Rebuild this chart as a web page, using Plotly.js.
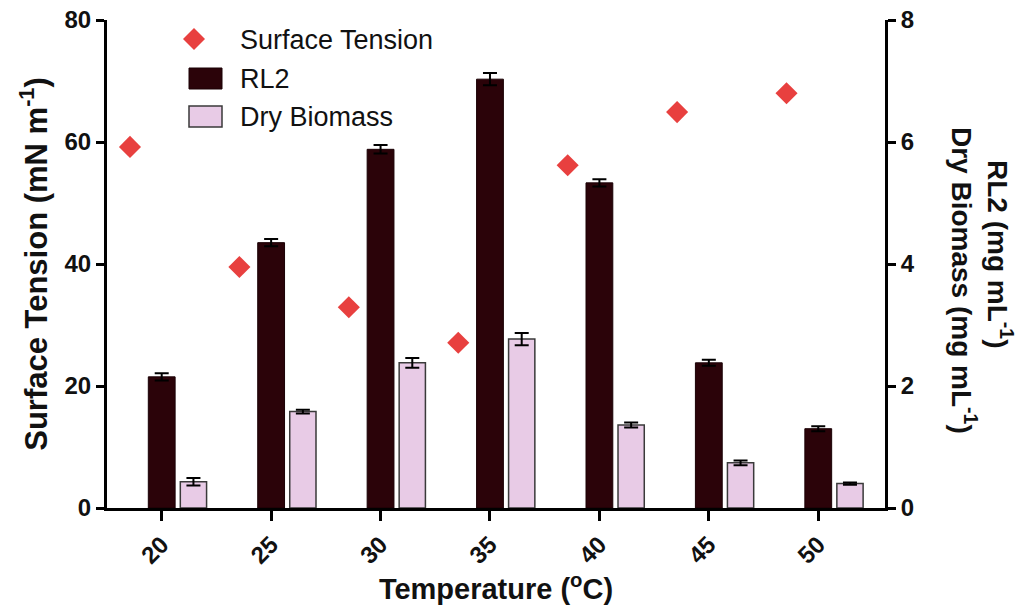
<!DOCTYPE html>
<html>
<head>
<meta charset="utf-8">
<script src="https://cdn.plot.ly/plotly-3.0.1.min.js"></script>
<style>html,body{margin:0;padding:0;background:#fff;}#chart{width:1026px;height:614px;}</style>
</head>
<body>
<div id="chart"></div>
<script>
// ---- data ----
const temperatures = ["20", "25", "30", "35", "40", "45", "50"];
const surfaceTension = [59.2, 39.5, 32.9, 27.1, 56.2, 64.9, 68.0];
const rl2 = [2.15, 4.35, 5.88, 7.03, 5.33, 2.38, 1.30];
const rl2Err = [0.06, 0.06, 0.07, 0.10, 0.06, 0.05, 0.04];
const dryBiomass = [0.43, 1.58, 2.38, 2.77, 1.36, 0.74, 0.40];
const dryBiomassErr = [0.06, 0.03, 0.08, 0.10, 0.04, 0.04, 0.02];

const idx = temperatures.map((_, i) => i);
const SHIFT = 0.29;
const FONT = "Liberation Sans, Arial, sans-serif";

const traces = [
  {
    type: "bar", name: "RL2", x: idx, y: rl2, width: 0.245, yaxis: "y2",
    marker: {color: "#2b0309", line: {color: "#1a0005", width: 1}},
    error_y: {type: "data", array: rl2Err, visible: true, color: "#000", thickness: 2, width: 7},
    showlegend: false
  },
  {
    type: "bar", name: "Dry Biomass", x: idx.map(i => i + SHIFT), y: dryBiomass, width: 0.24, yaxis: "y2",
    marker: {color: "#e8cbe6", line: {color: "#3a3a3a", width: 1.5}},
    error_y: {type: "data", array: dryBiomassErr, visible: true, color: "#000", thickness: 2, width: 7},
    showlegend: false
  },
  {
    type: "scatter", mode: "markers", name: "Surface Tension", x: idx.map(i => i - SHIFT), y: surfaceTension,
    marker: {symbol: "diamond", size: 17, color: "#e8403f", line: {width: 0}},
    showlegend: false
  }
];

// manual legend placed in paper coordinates
const px = (x) => (x - 107) / 778;
const py = (y) => (508 - y) / 488;
const shapes = [
  {type: "path", xref: "paper", yref: "paper",
   path: `M ${px(194)} ${py(28)} L ${px(205)} ${py(39)} L ${px(194)} ${py(50)} L ${px(183)} ${py(39)} Z`,
   fillcolor: "#e8403f", line: {width: 0}},
  {type: "rect", xref: "paper", yref: "paper",
   x0: px(189), x1: px(222), y0: py(68), y1: py(89), fillcolor: "#2b0309", line: {color: "#1a0005", width: 1}},
  {type: "rect", xref: "paper", yref: "paper",
   x0: px(189), x1: px(222), y0: py(106), y1: py(127), fillcolor: "#e8cbe6", line: {color: "#3a3a3a", width: 1.5}}
];

const annotations = [
  {text: "Surface Tension", x: px(238), y: py(40)},
  {text: "RL2", x: px(238), y: py(79)},
  {text: "Dry Biomass", x: px(238), y: py(117)}
].map(a => ({...a, xref: "paper", yref: "paper", xanchor: "left", yanchor: "middle", showarrow: false,
  font: {family: FONT, size: 27, color: "#111"}}));

annotations.push({
  text: "<b>RL2 (mg mL<sup>-1</sup>)</b>",
  xref: "paper", yref: "paper", x: px(1000), y: py(254), xanchor: "center", yanchor: "middle",
  textangle: 90, showarrow: false, font: {family: FONT, size: 28, color: "#111"}
});
annotations.push({
  text: "<b>Dry Biomass (mg mL<sup>-1</sup>)</b>",
  xref: "paper", yref: "paper", x: px(964), y: py(280), xanchor: "center", yanchor: "middle",
  textangle: 90, showarrow: false, font: {family: FONT, size: 28, color: "#111"}
});

const axisCommon = {
  showgrid: false, zeroline: false, showline: true, linecolor: "#000", linewidth: 3,
  ticks: "outside", tickwidth: 3, tickcolor: "#000",
  tickfont: {family: FONT, size: 24, color: "#111", weight: "bold"}
};

const layout = {
  width: 1026, height: 614,
  margin: {l: 107, r: 141, t: 20, b: 106, pad: 0},
  paper_bgcolor: "#fff", plot_bgcolor: "#fff",
  showlegend: false,
  barmode: "overlay",
  xaxis: {
    ...axisCommon,
    range: [-0.5, 6.61], tickvals: idx, ticktext: temperatures, tickangle: -45, ticklen: 10,
    title: {text: "<b>Temperature (<sup>o</sup>C)</b>", font: {family: FONT, size: 29, color: "#111"}, standoff: 8}
  },
  yaxis: {
    ...axisCommon,
    range: [0, 80], tickvals: [0, 20, 40, 60, 80], ticklen: 8,
    title: {text: "<b>Surface Tension (mN m<sup>-1</sup>)</b>", font: {family: FONT, size: 31, color: "#111"}, standoff: 8}
  },
  yaxis2: {
    ...axisCommon,
    range: [0, 8], tickvals: [0, 2, 4, 6, 8], overlaying: "y", side: "right", ticklen: 8
  },
  shapes: shapes,
  annotations: annotations
};

Plotly.newPlot("chart", traces, layout, {displayModeBar: false, staticPlot: true});
</script>
</body>
</html>
